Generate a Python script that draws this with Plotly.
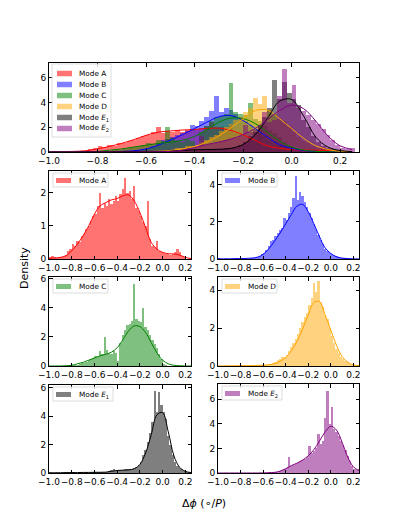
import numpy as np
import plotly.graph_objects as go

# the page body adds an 8px margin, so the figure is placed at (8, 8)
OFF = 8
W, H = 391, 524

# histogram bins (centres) and KDE sample points
bin_centers = np.round(np.arange(-0.99, 0.26, 0.02), 2)
kde_x = np.round(np.arange(-1.0, 0.26, 0.05), 2)

labels = ["Mode A", "Mode B", "Mode C", "Mode D",
          "Mode <i>E</i><sub>1</sub>", "Mode <i>E</i><sub>2</sub>"]
colors = ["#ff0000", "#0000ff", "#008000", "#ffa500", "#000000", "#800080"]
fills = ["rgba(255,0,0,0.55)", "rgba(0,0,255,0.5)", "rgba(0,128,0,0.5)",
         "rgba(255,165,0,0.5)", "rgba(0,0,0,0.5)", "rgba(128,0,128,0.5)"]

hist_a = [0.05, 0.08, 0.05, 0.02, 0.03, 0.05, 0.08, 0.12, 0.25, 0.3,
          0.45, 0.4, 0.55, 0.5, 0.7, 0.75, 0.9, 1.0, 1.15, 1.3,
          1.35, 1.6, 2.0, 1.55, 1.7, 1.6, 1.8, 1.65, 1.75, 1.9,
          1.75, 1.95, 2.1, 2.45, 2.0, 2.05, 1.8, 2.2, 1.55, 1.45,
          1.3, 1.1, 1.0, 1.75, 0.6, 0.4, 0.35, 0.55, 0.25, 0.2,
          0.18, 0.15, 0.15, 0.12, 0.15, 0.2, 0.3, 0.2, 0.1, 0.05,
          0.0, 0.0, 0.0]
hist_b = [0.03, 0, 0, 0.02, 0, 0, 0, 0.02, 0.03, 0,
          0, 0.02, 0.03, 0.02, 0.05, 0.05, 0.08, 0.1, 0.15, 0.25,
          0.35, 0.5, 0.7, 0.95, 1.05, 1.25, 1.4, 1.55, 1.7, 2.2,
          2.1, 2.5, 2.8, 3.3, 4.5, 3.2, 3.6, 3.4, 3.1, 2.8,
          2.5, 2.2, 1.9, 1.6, 1.3, 1.0, 0.8, 0.55, 0.45, 0.35,
          0.25, 0.2, 0.15, 0.12, 0.08, 0.06, 0.05, 0.04, 0.02, 0.0,
          0, 0, 0]
hist_c = [0, 0, 0, 0, 0, 0, 0, 0, 0, 0.02,
          0.05, 0.08, 0.1, 0.15, 0.2, 0.22, 0.3, 0.4, 0.5, 0.55,
          0.7, 0.65, 1.0, 0.85, 2.0, 1.1, 0.9, 0.8, 1.0, 0.9,
          0.35, 1.6, 2.1, 2.5, 2.8, 2.9, 3.1, 5.6, 3.2, 3.1,
          3.0, 4.0, 2.7, 2.5, 2.1, 1.8, 1.5, 1.2, 0.8, 0.45,
          0.15, 0.05, 0, 0, 0, 0, 0, 0, 0, 0,
          0, 0, 0]
hist_d = [0, 0, 0, 0, 0, 0, 0.02, 0.03, 0, 0,
          0, 0.02, 0, 0.02, 0.03, 0.02, 0.03, 0.04, 0.05, 0.05,
          0.06, 0.07, 0.1, 0.12, 0.15, 0.2, 0.3, 0.35, 0.45, 0.5,
          0.6, 0.8, 1.0, 1.2, 1.4, 1.7, 2.0, 2.3, 2.6, 2.8,
          3.2, 3.6, 4.4, 3.9, 4.5, 3.4, 3.1, 2.7, 2.5, 2.0,
          1.6, 1.2, 0.9, 0.7, 0.5, 0.35, 0.25, 0.2, 0.1, 0.06,
          0.03, 0, 0]
hist_e1 = [0.02, 0, 0.02, 0, 0.02, 0.03, 0.02, 0.03, 0.02, 0.02,
           0.03, 0.02, 0.03, 0.02, 0.03, 0.03, 0.04, 0.03, 0.04, 0.05,
           0.05, 0.05, 0.06, 0.07, 0.08, 0.1, 0.15, 0.2, 0.3, 0.15,
           0.2, 0.2, 0.22, 0.25, 0.25, 0.28, 0.3, 0.35, 0.4, 0.55,
           0.8, 1.3, 1.6, 2.2, 2.8, 3.6, 5.8, 4.3, 5.7, 4.8,
           4.3, 3.8, 2.6, 2.0, 1.3, 0.8, 0.5, 0.35, 0.25, 0.15,
           0.1, 0.05, 0.02]
hist_e2 = [0, 0, 0, 0, 0, 0, 0, 0, 0, 0,
           0, 0, 0, 0, 0, 0, 0, 0, 0, 0.02,
           0.02, 0.03, 0.05, 0.05, 0.08, 0.1, 0.12, 0.2, 0.25, 0.35,
           0.4, 1.3, 0.55, 0.65, 0.75, 0.85, 0.95, 1.05, 1.15, 1.3,
           2.2, 1.6, 1.8, 2.0, 3.2, 2.4, 2.6, 4.5, 6.7, 4.0,
           5.4, 3.6, 3.3, 3.0, 2.6, 2.3, 1.9, 1.4, 1.0, 0.6,
           0.35, 0.25, 0.3]

kde_a = [0.02, 0.03, 0.05, 0.1, 0.25, 0.45, 0.7, 1.0, 1.35, 1.6, 1.7, 1.78, 1.82,
         1.9, 1.93, 1.75, 1.4, 0.95, 0.5, 0.3, 0.2, 0.16, 0.15, 0.12, 0.05, 0.01]
kde_b = [0.01, 0.01, 0.01, 0.02, 0.02, 0.03, 0.05, 0.1, 0.25, 0.55, 0.95, 1.4, 1.9,
         2.4, 2.85, 2.95, 2.55, 1.9, 1.2, 0.6, 0.3, 0.12, 0.05, 0.02, 0.01, 0.0]
kde_c = [0, 0, 0, 0.02, 0.05, 0.15, 0.25, 0.4, 0.55, 0.7, 0.8, 0.95, 1.25,
         1.8, 2.4, 2.75, 2.7, 2.3, 1.6, 0.9, 0.4, 0.15, 0.05, 0.02, 0.0, 0.0]
kde_d = [0.0, 0.01, 0.01, 0.01, 0.02, 0.02, 0.02, 0.03, 0.04, 0.07, 0.12, 0.25, 0.45,
         0.8, 1.3, 1.95, 2.7, 3.35, 3.4, 2.7, 1.9, 1.1, 0.5, 0.2, 0.06, 0.02]
kde_e1 = [0.02, 0.02, 0.02, 0.03, 0.03, 0.03, 0.04, 0.04, 0.05, 0.05, 0.06, 0.12, 0.18,
          0.2, 0.22, 0.3, 0.6, 1.4, 2.7, 4.1, 4.25, 2.9, 1.2, 0.4, 0.12, 0.03]
kde_e2 = [0, 0, 0, 0, 0, 0, 0, 0, 0.01, 0.02, 0.05, 0.15, 0.35,
          0.6, 0.8, 1.05, 1.4, 1.9, 2.6, 3.35, 3.8, 3.5, 2.5, 1.3, 0.5, 0.2]

hists = [hist_a, hist_b, hist_c, hist_d, hist_e1, hist_e2]
kdes = [kde_a, kde_b, kde_c, kde_d, kde_e1, kde_e2]

# panel boxes in window pixels: (left, right, top, bottom)
boxes = [(49, 359, 63, 152),
         (49, 191, 171, 259), (218, 359, 171, 259),
         (49, 191, 277, 366), (218, 359, 277, 366),
         (49, 191, 385, 473), (218, 359, 384, 473)]
y_ranges = [7.2, 2.65, 4.75, 6.1, 4.7, 6.2, 7.24]
y_ticks = [[0, 2, 4, 6], [0, 1, 2], [0, 2, 4], [0, 2, 4, 6], [0, 2, 4], [0, 2, 4, 6], [0, 2, 4, 6]]


def px(x, y):
    return (x - OFF) / W, 1 - (y - OFF) / H


fig = go.Figure()

def add_mode(i, panel):
    sfx = "" if panel == 0 else str(panel + 1)
    fig.add_trace(go.Bar(x=bin_centers, y=hists[i], width=0.02, name=labels[i],
                         marker=dict(color=fills[i], line=dict(width=0)), showlegend=False,
                         xaxis="x" + sfx, yaxis="y" + sfx))
    fig.add_trace(go.Scatter(x=kde_x, y=kdes[i], mode="lines", showlegend=False,
                             line=dict(color=colors[i], width=1, shape="spline"),
                             xaxis="x" + sfx, yaxis="y" + sfx))

for i in range(6):
    add_mode(i, 0)
for i in range(6):
    add_mode(i, i + 1)

axis_common = dict(showline=True, mirror="allticks", linecolor="black", linewidth=1,
                   ticks="inside", ticklen=3.5, tickwidth=0.8, tickcolor="black",
                   tickfont=dict(size=9, color="black"), showgrid=False, zeroline=False,
                   automargin=False)

layout = dict(width=W, height=H, margin=dict(l=0, r=0, t=0, b=0),
              paper_bgcolor="white", plot_bgcolor="white", barmode="overlay", bargap=0,
              font=dict(family="DejaVu Sans", color="black"), showlegend=False)

for p, (l, r, t, b) in enumerate(boxes):
    sfx = "" if p == 0 else str(p + 1)
    xr = [-1.0, 0.278] if p == 0 else [-1.0, 0.25]
    x0, y1 = px(l, t)
    x1, y0 = px(r, b)
    layout["xaxis" + sfx] = dict(axis_common, domain=[x0, x1], range=xr,
                                 tick0=-1.0, dtick=0.2, tickformat=".1f", tickangle=0,
                                 anchor="y" + sfx)
    layout["yaxis" + sfx] = dict(axis_common, domain=[y0, y1],
                                 range=[0, y_ranges[p]], tickvals=y_ticks[p],
                                 anchor="x" + sfx)

fig.update_layout(**layout)

# hand-drawn legends (matplotlib look)
def legend_box(x0, y0, x1, y1):
    a, b = px(x0, y0)
    c, d = px(x1, y1)
    fig.add_shape(type="rect", xref="paper", yref="paper", x0=a, y0=d, x1=c, y1=b,
                  line=dict(color="#d4d4d4", width=0.8), fillcolor="rgba(255,255,255,0.8)")

def legend_item(i, x, yc, pw, ph, tx, size):
    a, b = px(x, yc - ph / 2)
    c, d = px(x + pw, yc + ph / 2)
    fig.add_shape(type="rect", xref="paper", yref="paper", x0=a, y0=d, x1=c, y1=b,
                  line=dict(width=0), fillcolor=fills[i])
    tx_p, ty_p = px(tx, yc)
    fig.add_annotation(text=labels[i], x=tx_p, y=ty_p, xref="paper", yref="paper",
                       xanchor="left", yanchor="middle", showarrow=False,
                       font=dict(size=size))

legend_box(52, 64, 111, 137)
for i in range(6):
    legend_item(i, 57, 73.5 + 11 * i, 15, 5.5, 77, 7.3)

for p in range(1, 7):
    l, r, t, b = boxes[p]
    i = p - 1
    wbox = 60 if i >= 4 else 55
    legend_box(l + 4, t + 2, l + 4 + wbox, t + 16)
    legend_item(i, l + 7, t + 9.5, 15, 5, l + 28, 7.3)

dx, dy = px(24, 268)
fig.add_annotation(text="Density", x=dx, y=dy, xref="paper", yref="paper",
                   xanchor="center", yanchor="middle",
                   showarrow=False, textangle=-90, font=dict(size=11))
tx, ty = px(204, 503)
fig.add_annotation(text="Δ<i>ϕ</i> (∘/<i>P</i>)", x=tx, y=ty,
                   xref="paper", yref="paper", xanchor="center", yanchor="middle",
                   showarrow=False, font=dict(size=11))

fig.write_html("out.html")
